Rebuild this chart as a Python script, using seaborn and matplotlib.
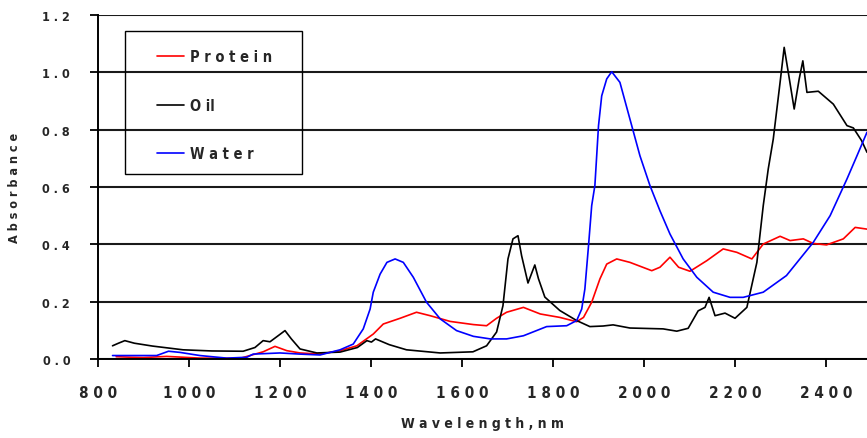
import matplotlib
matplotlib.use("Agg")
import matplotlib.pyplot as plt
from matplotlib import font_manager
from matplotlib.font_manager import FontProperties
from matplotlib.patches import Rectangle
import pandas as pd
import seaborn as sns

# ---- spectra (wavelength in nm, absorbance) ----
protein_nm = [840, 874, 900, 951, 1024, 1112, 1134, 1163, 1189, 1215, 1244, 1288,
              1332, 1369, 1405, 1427, 1464, 1500, 1530, 1574, 1625, 1654, 1676,
              1698, 1735, 1772, 1815, 1852, 1867, 1885, 1903, 1918, 1940, 1969,
              2017, 2035, 2057, 2076, 2101, 2138, 2174, 2204, 2237, 2262, 2299,
              2321, 2350, 2372, 2401, 2438, 2464, 2490]
protein_abs = [0.008, 0.006, 0.005, 0.009, 0.003, 0.002, 0.012, 0.025, 0.044,
               0.029, 0.021, 0.017, 0.029, 0.046, 0.087, 0.122, 0.142, 0.163,
               0.151, 0.131, 0.120, 0.116, 0.142, 0.163, 0.180, 0.157, 0.145,
               0.130, 0.145, 0.198, 0.279, 0.331, 0.349, 0.337, 0.308, 0.320,
               0.355, 0.320, 0.306, 0.343, 0.384, 0.372, 0.349, 0.401, 0.428,
               0.413, 0.419, 0.403, 0.398, 0.419, 0.459, 0.453]

oil_nm = [832, 845, 859, 880, 920, 987, 1050, 1119, 1145, 1163, 1178, 1195, 1211,
          1225, 1244, 1281, 1332, 1370, 1391, 1401, 1410, 1440, 1478, 1552, 1624,
          1654, 1676, 1690, 1701, 1712, 1723, 1731, 1745, 1760, 1768, 1782, 1815,
          1852, 1881, 1910, 1932, 1969, 2042, 2072, 2097, 2119, 2134, 2143, 2156,
          2178, 2200, 2226, 2248, 2262, 2273, 2284, 2299, 2308, 2317, 2330, 2341,
          2349, 2358, 2383, 2416, 2446, 2460, 2478, 2490]
oil_abs = [0.046, 0.055, 0.064, 0.055, 0.045, 0.032, 0.028, 0.027, 0.040, 0.064,
           0.060, 0.080, 0.099, 0.070, 0.035, 0.021, 0.024, 0.040, 0.064, 0.059,
           0.070, 0.050, 0.032, 0.021, 0.025, 0.046, 0.094, 0.186, 0.349, 0.419,
           0.430, 0.360, 0.265, 0.328, 0.280, 0.216, 0.169, 0.134, 0.113, 0.115,
           0.119, 0.108, 0.105, 0.097, 0.107, 0.168, 0.180, 0.215, 0.151, 0.160,
           0.142, 0.180, 0.337, 0.535, 0.663, 0.767, 0.965, 1.087, 1.000, 0.872,
           0.977, 1.040, 0.930, 0.934, 0.889, 0.814, 0.806, 0.762, 0.721]

water_nm = [832, 929, 955, 980, 1024, 1083, 1127, 1141, 1200, 1244, 1288, 1332,
            1361, 1383, 1398, 1405, 1420, 1435, 1453, 1471, 1493, 1522, 1552,
            1588, 1625, 1662, 1698, 1735, 1786, 1830, 1852, 1863, 1870, 1878,
            1885, 1892, 1900, 1907, 1918, 1929, 1947, 1969, 1991, 2013, 2035,
            2057, 2086, 2116, 2152, 2189, 2218, 2262, 2313, 2372, 2409, 2446,
            2468, 2490]
water_abs = [0.012, 0.012, 0.027, 0.023, 0.012, 0.003, 0.006, 0.017, 0.021, 0.017,
             0.014, 0.032, 0.052, 0.105, 0.174, 0.233, 0.296, 0.337, 0.349, 0.337,
             0.285, 0.198, 0.140, 0.099, 0.079, 0.070, 0.070, 0.081, 0.113, 0.116,
             0.134, 0.174, 0.244, 0.395, 0.535, 0.605, 0.814, 0.918, 0.977, 1.002,
             0.965, 0.837, 0.709, 0.605, 0.517, 0.436, 0.349, 0.285, 0.233, 0.215,
             0.215, 0.233, 0.291, 0.407, 0.500, 0.628, 0.709, 0.791]

series_names = ["Protein", "Oil", "Water"]
series_labels = ["P r o t e i n", "O il", "W a t e r"]
series_colors = ["#ff0000", "#000000", "#0000ff"]

x_ticks = [800, 1000, 1200, 1400, 1600, 1800, 2000, 2200, 2400]
x_ticklabels = ["8 0 0", "1 0 0 0", "1 2 0 0", "1 4 0 0", "1 6 0 0",
                "1 8 0 0", "2 0 0 0", "2 2 0 0", "2 4 0 0"]
y_ticks = [0.0, 0.2, 0.4, 0.6, 0.8, 1.0, 1.2]
y_ticklabels = ["0 . 0", "0 . 2", "0 . 4", "0 . 6", "0 . 8", "1 . 0", "1 . 2"]

# ---- tidy frame for seaborn ----
frames = []
for name, nm, ab in [("Protein", protein_nm, protein_abs),
                     ("Oil", oil_nm, oil_abs),
                     ("Water", water_nm, water_abs)]:
    frames.append(pd.DataFrame({"nm": nm, "abs": ab, "component": name}))
df = pd.concat(frames, ignore_index=True)

sns.set_theme(style="white")
plt.rcParams["font.family"] = ["Liberation Sans", "DejaVu Sans"]


def pick_bold_font():
    """Prefer a narrow/condensed bold sans face if one is installed."""
    files = [f.fname for f in font_manager.fontManager.ttflist]
    for key in ["LiberationSansNarrow-Bold", "DejaVuSansCondensed-Bold",
                "OpenSans_Condensed-Bold", "OpenSansCondensed-Bold",
                "Roboto_Condensed-Bold", "RobotoCondensed-Bold"]:
        for fn in files:
            if key.lower() in fn.lower().replace(" ", ""):
                return fn, True
    return None, False


font_file, condensed = pick_bold_font()


def fp(size):
    if condensed:
        return FontProperties(fname=font_file, size=size)
    return FontProperties(family=["Liberation Sans", "DejaVu Sans"],
                          weight="bold", size=size * 0.9)


fig = plt.figure(figsize=(8.67, 4.39), dpi=100)
ax = fig.add_axes([0.113, 0.18, 0.887, 0.7836])

sns.lineplot(data=df, x="nm", y="abs", hue="component",
             hue_order=series_names, palette=series_colors,
             estimator=None, sort=False, linewidth=1.2, ax=ax, legend=False)

ax.set_xlim(800, 2490)
ax.set_ylim(0, 1.2)
ax.set_xticks(x_ticks)
ax.set_xticklabels(x_ticklabels, fontproperties=fp(11))
ax.set_yticks(y_ticks)
ax.set_yticklabels(y_ticklabels, fontproperties=fp(9))
ax.tick_params(axis="x", direction="out", length=6, width=1.3, pad=13,
               color="black", bottom=True)
ax.tick_params(axis="y", direction="out", length=6, width=1.3, pad=14,
               color="black", left=True)

ax.yaxis.grid(True, color="#1a1a1a", linewidth=1.5)
ax.xaxis.grid(False)
ax.set_axisbelow(True)
for side in ["top", "right"]:
    ax.spines[side].set_visible(False)
for side in ["left", "bottom"]:
    ax.spines[side].set_color("black")
    ax.spines[side].set_linewidth(1.4)

ax.set_xlabel("W a v e l e n g t h , n m", fontproperties=fp(10), labelpad=11)
ax.set_ylabel("A b s o r b a n c e", fontproperties=fp(9), labelpad=15)

# legend box with open (unfilled) frame
ax.add_patch(Rectangle((0.035, 0.538), 0.230, 0.416, transform=ax.transAxes,
                       fill=False, edgecolor="black", linewidth=1.0,
                       clip_on=False, zorder=5))
handles = [plt.Line2D([], [], color=c, linewidth=1.2) for c in series_colors]
leg = ax.legend(handles, series_labels, loc="center left",
                bbox_to_anchor=(0.0767, 0.738), frameon=False,
                borderpad=0, borderaxespad=0, handlelength=1.85,
                handletextpad=0.4, labelspacing=2.3, prop=fp(10.5))

fig.savefig("out.png", dpi=100)
